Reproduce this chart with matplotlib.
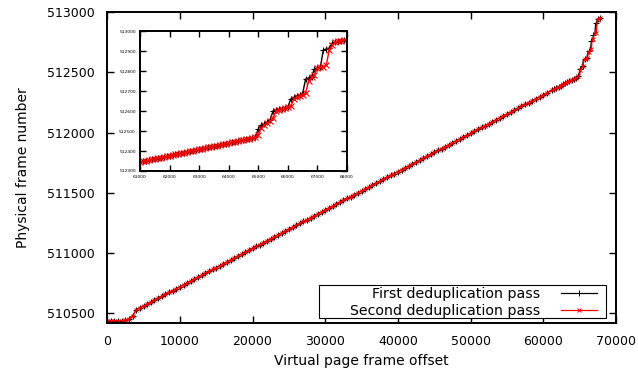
import numpy as np
import matplotlib
matplotlib.use("Agg")
import matplotlib.pyplot as plt
from matplotlib.patches import Rectangle

# Virtual page frame offsets (sampling grid): coarse up to 60500, fine in the zoomed region
x_coarse = list(range(0, 61000, 500))
x_fine = list(range(61000, 68000, 100))

# Shared part of both passes (physical frame numbers)
base_coarse = [
    510440, 510440, 510440, 510440, 510440, 510442, 510455, 510480,
    510530, 510546, 510562, 510578, 510594, 510610, 510625, 510641, 510657, 510673,
    510689, 510705, 510721, 510737, 510753, 510769, 510785, 510801, 510816, 510832,
    510848, 510864, 510880, 510896, 510912, 510928, 510944, 510960, 510976, 510992,
    511007, 511023, 511039, 511055, 511071, 511087, 511103, 511119, 511135, 511151,
    511167, 511183, 511198, 511214, 511230, 511246, 511262, 511278, 511294, 511310,
    511326, 511342, 511358, 511374, 511389, 511405, 511421, 511437, 511453, 511469,
    511485, 511501, 511517, 511533, 511549, 511565, 511580, 511596, 511612, 511628,
    511644, 511660, 511676, 511692, 511708, 511724, 511740, 511756, 511771, 511787,
    511803, 511819, 511835, 511851, 511867, 511883, 511899, 511915, 511931, 511947,
    511962, 511978, 511994, 512010, 512026, 512042, 512058, 512074, 512090, 512106,
    512122, 512138, 512153, 512169, 512185, 512201, 512217, 512233, 512249, 512265,
    512281, 512297, 512313, 512329,
]
base_fine = [
    512345, 512348, 512351, 512354, 512358, 512361, 512364, 512367, 512370, 512373,
    512377, 512380, 512383, 512386, 512389, 512392, 512396, 512399, 512402, 512405,
    512408, 512411, 512415, 512418, 512421, 512424, 512427, 512431, 512434, 512437,
    512440, 512443, 512446, 512450, 512453, 512456, 512459, 512462, 512465,
]
# Tails from 64900 to 67900
first_tail = [
    512470, 512510, 512530, 512535, 512545, 512555, 512600, 512605, 512610, 512612,
    512615, 512620, 512660, 512668, 512675, 512680, 512688, 512760, 512765, 512772,
    512810, 512815, 512820, 512905, 512910, 512915, 512940, 512945, 512948, 512952,
    512955,
]
second_tail = [
    512468, 512480, 512515, 512530, 512540, 512550, 512565, 512600, 512607, 512610,
    512613, 512618, 512625, 512660, 512668, 512675, 512682, 512690, 512750, 512768,
    512780, 512815, 512818, 512822, 512830, 512905, 512930, 512945, 512948, 512952,
    512955,
]

x_vals = np.array(x_coarse + x_fine)
first_pass = np.array(base_coarse + base_fine + first_tail)
second_pass = np.array(base_coarse + base_fine + second_tail)

labels = ["First deduplication pass", "Second deduplication pass"]

fig = plt.figure(figsize=(6.38, 3.75), dpi=100)
ax = fig.add_axes([0.168, 0.1387, 0.7975, 0.8293])

main_mark = [i for i, xv in enumerate(x_vals) if xv % 300 == 0 or xv < 61000]

def draw(a, ms_p, ms_x, lw, mew, markevery=None):
    a.plot(x_vals, first_pass, color="black", lw=lw, marker="+", ms=ms_p, mew=mew,
           markevery=markevery, label=labels[0])
    a.plot(x_vals, second_pass, color="#ff0000", lw=lw, marker="x", ms=ms_x, mew=mew,
           markevery=markevery, label=labels[1])

draw(ax, 4, 3.2, 0.9, 0.7, markevery=main_mark)
ax.set_xlim(0, 70000)
ax.set_ylim(510420, 513000)
ax.set_xticks(np.arange(0, 70001, 10000))
ax.set_yticks(np.arange(510500, 513001, 500))
ax.tick_params(direction="in", top=True, right=True, length=5, width=1,
               labelsize=9, pad=9)
for s in ax.spines.values():
    s.set_linewidth(1.4)
ax.set_xlabel("Virtual page frame offset", fontsize=10)
ax.set_ylabel("Physical frame number", fontsize=10, labelpad=12)

# Legend box (gnuplot style) drawn separately, legend itself frameless
box = Rectangle((319 / 638, 1 - 318 / 375), (606 - 319) / 638, (318 - 285) / 375,
                transform=fig.transFigure, facecolor="white", edgecolor="black",
                lw=0.8, zorder=5)
ax.add_artist(box)
box.set_clip_on(False)
leg = ax.legend(loc="lower right", markerfirst=False, fontsize=10.2, frameon=False,
                handlelength=2.5, handletextpad=1.5, labelspacing=0.22, borderpad=0.0,
                bbox_to_anchor=((604 - 107) / 509, -0.008))
leg.set_zorder(6)

# Inset
axi = fig.add_axes([0.2194, 0.544, 0.3245, 0.3733])
draw(axi, 5, 4, 1.0, 0.8)
axi.set_xlim(61000, 68000)
axi.set_ylim(512300, 513000)
axi.set_xticks(np.arange(61000, 68001, 1000))
axi.set_yticks(np.arange(512300, 513001, 100))
axi.tick_params(direction="in", top=True, right=True, length=4, width=1,
                labelsize=3.2, pad=3)
for s in axi.spines.values():
    s.set_linewidth(1.4)

fig.savefig("out.png", dpi=100)
